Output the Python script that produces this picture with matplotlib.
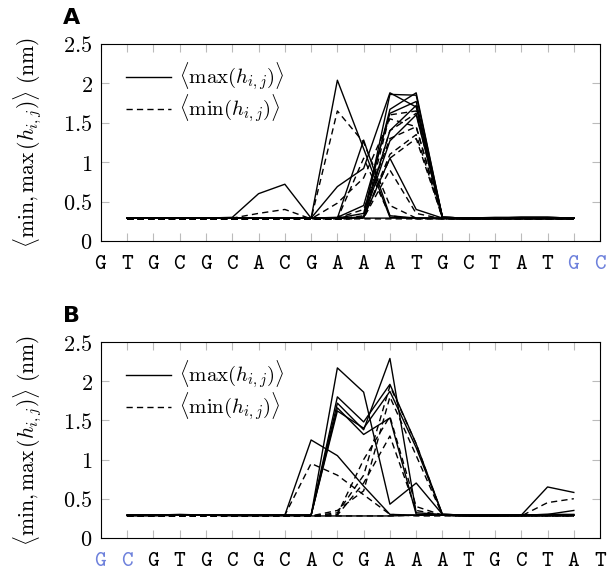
import numpy as np
import matplotlib
matplotlib.use('Agg')
import matplotlib.pyplot as plt

plt.rcParams['mathtext.fontset'] = 'cm'
plt.rcParams['font.family'] = ['DejaVu Serif']

# Secuencias de etiquetas del eje x (posiciones 0..19)
seq_a = list('GTGCGCACGAAATGCTATGC')
seq_b = list('GCGTGCGCACGAAATGCTAT')
blue_a = [18, 19]
blue_b = [0, 1]

# Posiciones de los datos (1..18)
pos = list(range(1, 19))

# Panel A: curvas max (continuas) y min (discontinuas)
a_max = [
    [0.29, 0.29, 0.29, 0.29, 0.30, 0.60, 0.72, 0.29, 0.29, 0.29, 0.29, 0.29, 0.29, 0.29, 0.30, 0.30, 0.30, 0.29],
    [0.29, 0.29, 0.29, 0.29, 0.29, 0.29, 0.29, 0.29, 2.04, 1.17, 0.30, 0.29, 0.29, 0.29, 0.29, 0.30, 0.30, 0.29],
    [0.29, 0.29, 0.29, 0.29, 0.29, 0.29, 0.29, 0.29, 0.69, 0.92, 1.88, 1.70, 0.30, 0.29, 0.29, 0.29, 0.29, 0.29],
    [0.29, 0.29, 0.29, 0.29, 0.29, 0.29, 0.29, 0.29, 0.29, 0.30, 1.86, 1.85, 0.30, 0.29, 0.29, 0.29, 0.29, 0.29],
    [0.29, 0.29, 0.29, 0.29, 0.29, 0.29, 0.29, 0.29, 0.29, 0.35, 1.67, 1.88, 0.30, 0.29, 0.29, 0.30, 0.30, 0.29],
    [0.29, 0.29, 0.29, 0.29, 0.29, 0.29, 0.29, 0.29, 0.30, 0.45, 1.62, 1.77, 0.30, 0.29, 0.29, 0.29, 0.29, 0.29],
    [0.29, 0.29, 0.29, 0.29, 0.29, 0.29, 0.29, 0.29, 0.29, 0.30, 1.40, 1.72, 0.30, 0.29, 0.29, 0.29, 0.29, 0.29],
    [0.29, 0.29, 0.29, 0.29, 0.29, 0.29, 0.29, 0.29, 0.29, 1.28, 0.32, 0.29, 0.29, 0.29, 0.29, 0.29, 0.29, 0.29],
    [0.29, 0.29, 0.29, 0.29, 0.29, 0.29, 0.29, 0.29, 0.29, 0.30, 1.05, 0.40, 0.29, 0.29, 0.29, 0.29, 0.29, 0.29],
    [0.29, 0.29, 0.29, 0.29, 0.29, 0.29, 0.29, 0.29, 0.29, 0.30, 1.27, 1.60, 0.30, 0.29, 0.29, 0.29, 0.29, 0.29],
]
a_min = [
    [0.28, 0.28, 0.28, 0.28, 0.29, 0.35, 0.40, 0.28, 0.28, 0.28, 0.28, 0.28, 0.28, 0.28, 0.29, 0.29, 0.29, 0.28],
    [0.28, 0.28, 0.28, 0.28, 0.28, 0.28, 0.28, 0.28, 1.65, 1.25, 0.45, 0.29, 0.28, 0.28, 0.28, 0.29, 0.29, 0.28],
    [0.28, 0.28, 0.28, 0.28, 0.28, 0.28, 0.28, 0.28, 0.48, 0.80, 1.55, 1.45, 0.29, 0.28, 0.28, 0.28, 0.28, 0.28],
    [0.28, 0.28, 0.28, 0.28, 0.28, 0.28, 0.28, 0.28, 0.28, 0.29, 1.60, 1.65, 0.29, 0.28, 0.28, 0.28, 0.28, 0.28],
    [0.28, 0.28, 0.28, 0.28, 0.28, 0.28, 0.28, 0.28, 0.28, 0.32, 1.40, 1.62, 0.29, 0.28, 0.28, 0.29, 0.29, 0.28],
    [0.28, 0.28, 0.28, 0.28, 0.28, 0.28, 0.28, 0.28, 0.29, 0.40, 1.30, 1.45, 0.29, 0.28, 0.28, 0.28, 0.28, 0.28],
    [0.28, 0.28, 0.28, 0.28, 0.28, 0.28, 0.28, 0.28, 0.28, 0.29, 1.10, 1.35, 0.29, 0.28, 0.28, 0.28, 0.28, 0.28],
    [0.28, 0.28, 0.28, 0.28, 0.28, 0.28, 0.28, 0.28, 0.28, 1.05, 0.32, 0.28, 0.28, 0.28, 0.28, 0.28, 0.28, 0.28],
    [0.28, 0.28, 0.28, 0.28, 0.28, 0.28, 0.28, 0.28, 0.28, 0.29, 0.90, 0.35, 0.28, 0.28, 0.28, 0.28, 0.28, 0.28],
    [0.28, 0.28, 0.28, 0.28, 0.28, 0.28, 0.28, 0.28, 0.28, 0.29, 1.05, 1.30, 0.29, 0.28, 0.28, 0.28, 0.28, 0.28],
]

# Panel B
b_max = [
    [0.29, 0.29, 0.30, 0.29, 0.29, 0.29, 0.29, 1.25, 1.05, 0.66, 0.30, 0.29, 0.29, 0.29, 0.29, 0.29, 0.30, 0.30],
    [0.29, 0.29, 0.29, 0.29, 0.29, 0.29, 0.29, 0.29, 2.17, 1.86, 0.43, 0.70, 0.30, 0.29, 0.29, 0.29, 0.29, 0.29],
    [0.29, 0.29, 0.29, 0.29, 0.29, 0.29, 0.29, 0.29, 1.80, 1.48, 1.96, 1.20, 0.30, 0.29, 0.29, 0.29, 0.29, 0.29],
    [0.29, 0.29, 0.29, 0.29, 0.29, 0.29, 0.29, 0.29, 1.72, 1.38, 2.29, 0.32, 0.30, 0.29, 0.29, 0.29, 0.30, 0.35],
    [0.29, 0.29, 0.29, 0.29, 0.29, 0.29, 0.29, 0.29, 1.66, 1.32, 1.53, 0.30, 0.29, 0.29, 0.29, 0.29, 0.29, 0.29],
    [0.29, 0.29, 0.29, 0.29, 0.29, 0.29, 0.29, 0.29, 1.62, 1.40, 1.87, 1.15, 0.30, 0.29, 0.29, 0.29, 0.29, 0.29],
    [0.28, 0.28, 0.29, 0.29, 0.28, 0.28, 0.28, 0.28, 0.28, 0.28, 0.28, 0.29, 0.29, 0.28, 0.28, 0.29, 0.65, 0.58],
]
b_min = [
    [0.28, 0.28, 0.29, 0.28, 0.28, 0.28, 0.29, 0.95, 0.80, 0.55, 0.30, 0.28, 0.28, 0.28, 0.28, 0.28, 0.29, 0.29],
    [0.28, 0.28, 0.28, 0.28, 0.28, 0.28, 0.28, 0.28, 0.32, 0.80, 1.94, 1.20, 0.29, 0.28, 0.28, 0.28, 0.28, 0.28],
    [0.28, 0.28, 0.28, 0.28, 0.28, 0.28, 0.28, 0.28, 0.35, 0.60, 1.80, 1.05, 0.29, 0.28, 0.28, 0.28, 0.28, 0.28],
    [0.28, 0.28, 0.28, 0.28, 0.28, 0.28, 0.28, 0.28, 0.30, 1.00, 1.55, 0.40, 0.29, 0.28, 0.28, 0.28, 0.28, 0.28],
    [0.28, 0.28, 0.28, 0.28, 0.28, 0.28, 0.28, 0.28, 0.29, 0.70, 1.30, 0.35, 0.29, 0.28, 0.28, 0.28, 0.28, 0.28],
    [0.28, 0.28, 0.28, 0.28, 0.28, 0.28, 0.28, 0.28, 0.28, 0.28, 0.28, 0.29, 0.29, 0.28, 0.28, 0.28, 0.45, 0.50],
]

y_ticks = [0, 0.5, 1, 1.5, 2, 2.5]
y_labels = ['0', '0.5', '1', '1.5', '2', '2.5']
blue = '#6f82dc'


def draw_panel(ax, maxs, mins, seq, blues):
    for i, v in enumerate(maxs):
        ax.plot(pos, v, color='black', lw=1.0,
                label=r'$\langle\max(h_{i,j})\rangle$' if i == 0 else None)
    for i, v in enumerate(mins):
        ax.plot(pos, v, color='black', lw=1.0, ls=(0, (4.5, 3)),
                label=r'$\langle\min(h_{i,j})\rangle$' if i == 0 else None)
    ax.set_xlim(0, 19)
    ax.set_ylim(0, 2.5)
    ax.set_xticks(range(20))
    ax.set_xticklabels([r'$\mathtt{' + s + '}$' for s in seq], fontsize=16)
    for k in blues:
        ax.get_xticklabels()[k].set_color(blue)
    ax.set_yticks(y_ticks)
    ax.set_yticklabels(['$' + s + '$' for s in y_labels], fontsize=16)
    ax.tick_params(axis='both', direction='in', color='#bbbbbb', length=6,
                   top=True, right=True, width=0.8)
    ax.tick_params(axis='x', pad=8)
    ax.tick_params(axis='y', pad=6)
    ax.set_ylabel(r'$\langle\min,\max\,(h_{i,j})\rangle$ $\mathrm{(nm)}$', fontsize=15.5)
    ax.yaxis.set_label_coords(-0.116, 0.5)
    ax.legend(loc='upper left', bbox_to_anchor=(0.016, 1.0), frameon=False,
              fontsize=15, handlelength=2.2, handletextpad=0.35,
              borderaxespad=0.5, borderpad=0.3, labelspacing=0.0)


fig = plt.figure(figsize=(6.08, 5.71), dpi=100)
ax_a = fig.add_axes([0.166, 0.578, 0.821, 0.345])
ax_b = fig.add_axes([0.166, 0.058, 0.821, 0.343])

draw_panel(ax_a, a_max, a_min, seq_a, blue_a)
draw_panel(ax_b, b_max, b_min, seq_b, blue_b)

fig.text(0.104, 0.986, 'A', fontsize=16, fontweight='bold', family='DejaVu Sans', va='top')
fig.text(0.104, 0.464, 'B', fontsize=16, fontweight='bold', family='DejaVu Sans', va='top')

fig.savefig('out.png', dpi=100)
